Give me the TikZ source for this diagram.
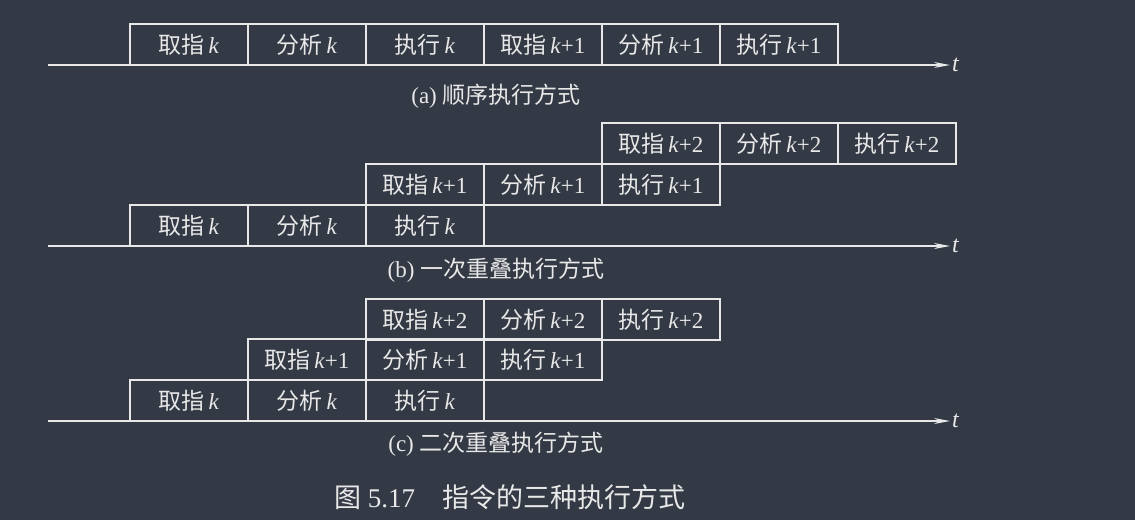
\documentclass[tikz,border=0pt]{standalone}
\usepackage{fontspec}
\setmainfont{Liberation Serif}
\newfontfamily\cjk{Noto Sans CJK SC}
\usetikzlibrary{arrows.meta}
\definecolor{bg}{HTML}{343A45}
\definecolor{fg}{HTML}{E8E8E8}
\newcommand\kk{\,\textit{k}}
\tikzset{
  cell/.style={draw=fg, line width=1.2pt, minimum width=118pt, minimum height=41pt, inner sep=0pt, outer sep=0pt, anchor=south west, text=fg, font=\fontsize{23}{26}\selectfont},
  axisline/.style={draw=fg, line width=1.2pt, -{Stealth[length=16pt,width=6pt]}},
  tlabel/.style={text=fg, anchor=west, inner sep=2pt, font=\fontsize{24}{26}\selectfont\itshape},
  sub/.style={text=fg, anchor=center, inner sep=0pt, font=\fontsize{23}{26}\selectfont},
  fig/.style={text=fg, anchor=west, inner sep=0pt, font=\fontsize{27}{30}\selectfont}
}
\begin{document}
\begin{tikzpicture}[x=1pt,y=-1pt]
\fill[bg] (0,0) rectangle (1135,520);
\useasboundingbox (0,0) rectangle (1135,520);
% (a)
\node[cell] (a1) at (130,65) {{\cjk 取指}\kk};
\node[cell] (a2) at (248,65) {{\cjk 分析}\kk};
\node[cell] (a3) at (366,65) {{\cjk 执行}\kk};
\node[cell] (a4) at (484,65) {{\cjk 取指}\kk+1};
\node[cell] (a5) at (602,65) {{\cjk 分析}\kk+1};
\node[cell] (a6) at (720,65) {{\cjk 执行}\kk+1};
\coordinate (as) at (48,65);
\coordinate (ae) at (950,65);
\draw[axisline] (as) -- (ae);
\node[tlabel] (at) at (ae) {t};
\node[sub] (acap) at (496,96) {(a) {\cjk 顺序执行方式}};
% (b)
\node[cell] (b11) at (130,246) {{\cjk 取指}\kk};
\node[cell] (b12) at (248,246) {{\cjk 分析}\kk};
\node[cell] (b13) at (366,246) {{\cjk 执行}\kk};
\node[cell] (b21) at (366,205) {{\cjk 取指}\kk+1};
\node[cell] (b22) at (484,205) {{\cjk 分析}\kk+1};
\node[cell] (b23) at (602,205) {{\cjk 执行}\kk+1};
\node[cell] (b31) at (602,164) {{\cjk 取指}\kk+2};
\node[cell] (b32) at (720,164) {{\cjk 分析}\kk+2};
\node[cell] (b33) at (838,164) {{\cjk 执行}\kk+2};
\coordinate (bs) at (48,246);
\coordinate (be) at (950,246);
\draw[axisline] (bs) -- (be);
\node[tlabel] (bt) at (be) {t};
\node[sub] (bcap) at (496,270) {(b) {\cjk 一次重叠执行方式}};
% (c)
\node[cell] (c11) at (130,421) {{\cjk 取指}\kk};
\node[cell] (c12) at (248,421) {{\cjk 分析}\kk};
\node[cell] (c13) at (366,421) {{\cjk 执行}\kk};
\node[cell] (c21) at (248,380) {{\cjk 取指}\kk+1};
\node[cell] (c22) at (366,380) {{\cjk 分析}\kk+1};
\node[cell] (c23) at (484,380) {{\cjk 执行}\kk+1};
\node[cell] (c31) at (366,340) {{\cjk 取指}\kk+2};
\node[cell] (c32) at (484,340) {{\cjk 分析}\kk+2};
\node[cell] (c33) at (602,340) {{\cjk 执行}\kk+2};
\coordinate (cs) at (48,421);
\coordinate (ce) at (950,421);
\draw[axisline] (cs) -- (ce);
\node[tlabel] (ct) at (ce) {t};
\node[sub] (ccap) at (496,444) {(c) {\cjk 二次重叠执行方式}};
% figure caption
\node[fig] (figcap) at (334,497) {{\cjk 图} 5.17\hspace{1em}{\cjk 指令的三种执行方式}};
\end{tikzpicture}
\end{document}
